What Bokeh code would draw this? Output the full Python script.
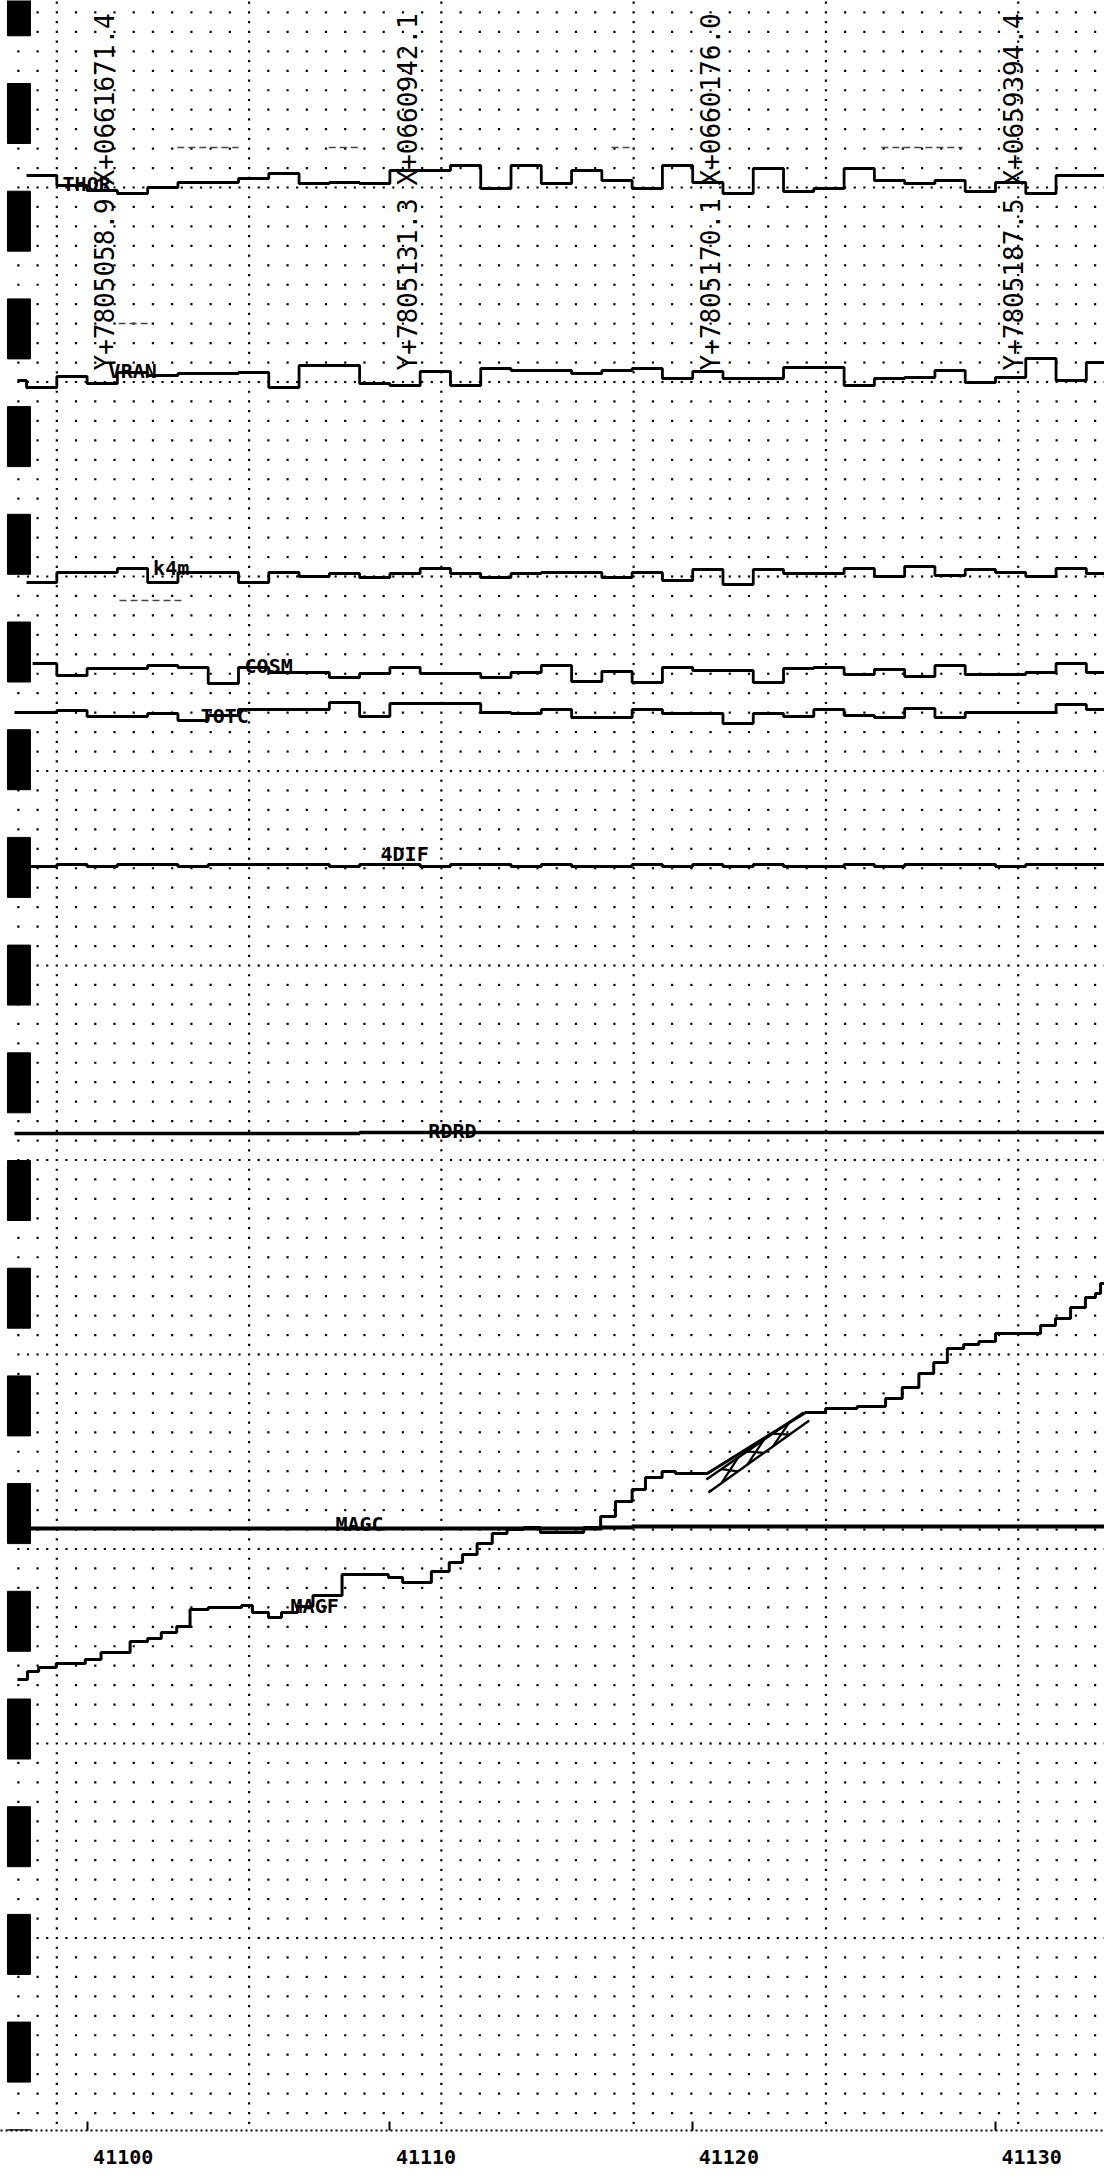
import numpy as np
from bokeh.plotting import figure
from bokeh.models import Range1d, FixedTicker
from bokeh.core.properties import value
from bokeh.embed import file_html
from bokeh.resources import INLINE

fid_ticks = [41100, 41110, 41120, 41130]
fid_labels = ["41100", "41110", "41120", "41130"]

# per-fiducial step traces: value for interval [n, n+1]
thor_n0, thor_x0 = 41098, 41098.0
thor = [175, 185, 190, 193, 187, 182, 182, 178, 173, 183, 182, 183,
        170, 170, 165, 188, 165, 183, 170, 180, 188, 165,
        182, 193, 168, 191, 188, 168, 180, 183, 180, 191,
        182, 193, 175, 175]

vran_n0, vran_x0 = 41097, 41097.7
vran = [380, 387, 376, 383, 372, 375, 373, 373, 372, 387, 365, 365, 383,
        385, 371, 385, 368, 370, 370, 373, 370, 368, 378,
        371, 378, 378, 367, 367, 385, 378, 377, 370, 382,
        377, 358, 380, 362]

k4m_n0, k4m_x0 = 41098, 41098.0
k4m = [582, 572, 572, 568, 582, 572, 572, 582, 572, 576, 573, 577,
       573, 568, 573, 577, 573, 572, 572, 577, 572, 580,
       569, 584, 569, 573, 573, 568, 576, 566, 575, 569,
       572, 576, 568, 573]

cosm_n0, cosm_x0 = 41098, 41098.2
cosm = [663, 675, 668, 668, 665, 667, 683, 667, 672, 672, 677, 673,
        667, 673, 673, 677, 672, 665, 681, 671, 682, 667,
        670, 670, 682, 668, 667, 674, 669, 676, 665, 674,
        674, 672, 663, 672]

totc_n0, totc_x0 = 41097, 41097.6
totc = [712, 712, 710, 716, 716, 713, 720, 715, 709, 709, 709, 702, 716,
        703, 703, 703, 712, 713, 709, 717, 717, 709, 713,
        713, 723, 713, 716, 709, 715, 717, 708, 717, 712,
        712, 712, 704, 709]

dif4_n0, dif4_x0 = 41097, 41097.6
dif4 = [866, 866, 864, 866, 864, 864, 866, 864, 864, 864, 864, 866, 864,
        864, 866, 864, 864, 866, 864, 866, 866, 864, 866,
        864, 866, 864, 866, 866, 864, 866, 864, 864, 864,
        866, 864, 864, 864]

rdrd_n0, rdrd_x0 = 41097, 41097.6
rdrd = [1133, 1133, 1133, 1133, 1133, 1133, 1133, 1133, 1133, 1133, 1133, 1133, 1132,
        1132, 1132, 1132, 1132, 1132, 1132, 1132, 1132, 1132, 1132,
        1132, 1132, 1132, 1132, 1132, 1132, 1132, 1132, 1132, 1132,
        1132, 1132, 1132, 1132]

magc_n0, magc_x0 = 41098, 41098.1
magc = [1528, 1528, 1528, 1528, 1528, 1528, 1528, 1528, 1528, 1528, 1528, 1528,
        1528, 1528, 1528, 1528, 1528, 1528, 1528, 1527, 1526, 1526,
        1526, 1526, 1526, 1526, 1526, 1526, 1526, 1526, 1526, 1526,
        1526, 1526, 1526, 1526]

# MAGF: finer steps (start fiducial of each step, level)
magf_a_x = [41097.70, 41098.03, 41098.40, 41098.98, 41099.94, 41100.46, 41101.42, 41102.00,
            41102.45, 41102.96, 41103.40, 41104.00, 41105.10, 41105.46, 41105.99, 41106.42,
            41106.95, 41107.46, 41108.42, 41109.95, 41110.42, 41111.37, 41111.96, 41112.40,
            41112.88, 41113.38, 41113.87, 41114.42, 41114.97, 41116.40, 41116.96, 41117.45,
            41118.00, 41118.44, 41118.99, 41119.43]
magf_a_y = [1679, 1671, 1667, 1663, 1659, 1652, 1641, 1638, 1632, 1626, 1609, 1607,
            1605, 1612, 1617, 1612, 1606, 1595, 1574, 1577, 1582, 1571, 1562, 1554,
            1543, 1533, 1529, 1527, 1532, 1527, 1516, 1501, 1489, 1477, 1471, 1473]
magf_a_end = 41120.48
magf_b_x = [41123.73, 41124.39, 41125.43, 41126.37, 41126.92, 41127.47, 41127.96, 41128.41,
            41128.95, 41129.45, 41130.00, 41131.49, 41131.98, 41132.48, 41132.97, 41133.30,
            41133.47]
magf_b_y = [1412, 1408, 1406, 1398, 1387, 1373, 1362, 1348, 1344, 1341, 1333, 1325,
            1318, 1307, 1297, 1293, 1283]
magf_b_end = 41133.60

# hatched band along the MAGF ramp
hatch_up_x = [41120.45, 41123.66]
hatch_up_y = [1479, 1412]
hatch_lo_x = [41120.52, 41123.85]
hatch_lo_y = [1492, 1420]

# faint dashed level marks on the film
lvl_x0 = [41102.98, 41107.98, 41117.32, 41126.23, 41101.04, 41101.07]
lvl_x1 = [41105.00, 41109.03, 41118.08, 41128.91, 41102.16, 41103.15]
lvl_y = [147, 147, 147, 147, 323, 600]

trace_names = ["THOR", "VRAN", "k4m", "COSM", "TOTC", "4DIF", "RDRD", "MAGC", "MAGF"]

coord_fid = [41100, 41110, 41120, 41130]
x_coords = ["X+0661671.4", "X+0660942.1", "X+0660176.0", "X+0659394.4"]
y_coords = ["Y+7805058.9", "Y+7805131.3", "Y+7805170.1", "Y+7805187.5"]

# ---------------- layout ----------------
W, H = 1104, 2176
X0, X1 = 41097.140, 41133.600
Y_BOTTOM, Y_TOP = 2130, 0

p = figure(width=W, height=H, output_backend="svg", toolbar_location=None,
           x_range=Range1d(X0, X1), y_range=Range1d(Y_BOTTOM, Y_TOP),
           y_axis_location=None, min_border_left=0, min_border_right=0,
           min_border_top=0, min_border_bottom=H - (Y_BOTTOM - Y_TOP))
p.outline_line_color = None
p.grid.visible = False
p.background_fill_color = "white"
p.border_fill_color = "white"

NB = "\u00a0" * 6
ax = p.xaxis[0]
ax.ticker = FixedTicker(ticks=fid_ticks)
ax.major_label_overrides = {t: NB + s for t, s in zip(fid_ticks, fid_labels)}
ax.axis_line_color = "black"
ax.axis_line_width = 2
ax.axis_line_dash = "2 3"
ax.major_tick_in = 9
ax.major_tick_out = 0
ax.major_tick_line_width = 2
ax.minor_tick_line_color = None
ax.major_label_standoff = 14
ax.major_label_text_font = "DejaVu Sans Mono"
ax.major_label_text_font_style = "bold"
ax.major_label_text_font_size = "20px"
ax.major_label_text_color = "black"

# ---------------- film sprocket marks (left edge) ----------------
mark_top = -24.7 + 107.7 * np.arange(0, 21)
p.quad(left=X0 + 0.23, right=X0 + 0.99, top=mark_top, bottom=mark_top + 60,
       fill_color="black", line_color="black")

# ---------------- dot grid ----------------
col_step, row_step = 0.635, 19.45
cols = 41099.0 + col_step * np.arange(-2, 55)
rows = 2132 - row_step * np.arange(1, 110)
gx, gy = np.meshgrid(cols, rows)
p.scatter(gx.ravel(), gy.ravel(), marker="square", size=2.2,
          fill_color="black", line_color=None)
mcols = 41099.0 + 10 * col_step * np.arange(0, 6)
hrows = 2132 - row_step * (np.arange(0, 110) + 0.5)
mx, my = np.meshgrid(mcols, hrows)
p.scatter(mx.ravel(), my.ravel(), marker="square", size=2.2,
          fill_color="black", line_color=None)
mrows = 2132 - 10 * row_step * np.arange(1, 11)
hcols = cols + col_step / 2
rx, ry = np.meshgrid(hcols, mrows)
p.scatter(rx.ravel(), ry.ravel(), marker="square", size=2.2,
          fill_color="black", line_color=None)

p.segment(x0=lvl_x0, y0=lvl_y, x1=lvl_x1, y1=lvl_y, line_color="#444444",
          line_width=1.5, line_dash="7 4")


# ---------------- traces ----------------
def fid_steps(n0, x0, vals, x_end):
    edges = [x0] + [n0 + i for i in range(1, len(vals))] + [x_end]
    xs, ys = [], []
    for i, v in enumerate(vals):
        xs += [edges[i], edges[i + 1]]
        ys += [v, v]
    return xs, ys


def free_steps(xv, yv, x_end):
    edges = list(xv) + [x_end]
    xs, ys = [], []
    for i, v in enumerate(yv):
        xs += [edges[i], edges[i + 1]]
        ys += [v, v]
    return xs, ys


for (n0, x0, vals, lw) in [(thor_n0, thor_x0, thor, 2.8), (vran_n0, vran_x0, vran, 2.8),
                           (k4m_n0, k4m_x0, k4m, 2.8), (cosm_n0, cosm_x0, cosm, 2.8),
                           (totc_n0, totc_x0, totc, 2.8), (dif4_n0, dif4_x0, dif4, 3.0),
                           (rdrd_n0, rdrd_x0, rdrd, 3.4), (magc_n0, magc_x0, magc, 4.0)]:
    xs, ys = fid_steps(n0, x0, vals, X1)
    p.line(xs, ys, line_color="black", line_width=lw)

ax_, ay_ = free_steps(magf_a_x, magf_a_y, magf_a_end)
bx_, by_ = free_steps(magf_b_x, magf_b_y, magf_b_end)
p.line(ax_ + bx_, ay_ + by_, line_color="black", line_width=3.0)

# hatched band
p.line(hatch_up_x, hatch_up_y, line_color="black", line_width=2.4)
p.line(hatch_lo_x, hatch_lo_y, line_color="black", line_width=2.4)
ca = np.array([41120.95, 41121.80, 41122.65])
cb = ca + 0.55
up = lambda x: np.interp(x, hatch_up_x, hatch_up_y)
lo = lambda x: np.interp(x, hatch_lo_x, hatch_lo_y)
p.segment(x0=ca, y0=up(ca), x1=cb, y1=lo(cb), line_color="black", line_width=2.2)
p.segment(x0=ca, y0=lo(ca), x1=cb, y1=up(cb), line_color="black", line_width=2.2)

# ---------------- trace names ----------------
name_x = [41099.19, 41100.71, 41102.18, 41105.20, 41103.75, 41109.69, 41111.27, 41108.20, 41106.72]
name_y = [183, 370, 567, 665, 715, 853, 1130, 1523, 1605]
p.text(x=name_x, y=name_y, text=trace_names, text_font=value("DejaVu Sans Mono"),
       text_font_style="bold", text_font_size="20px", text_color="black",
       text_align="left", text_baseline="alphabetic")

# ---------------- rotated coordinate annotations ----------------
cx = [f + 0.6 for f in coord_fid]
p.text(x=cx, y=[185] * 4, text=x_coords, angle=np.pi / 2,
       text_font=value("DejaVu Sans Mono"), text_font_size="26px", text_color="black",
       text_align="left", text_baseline="middle")
p.text(x=cx, y=[370] * 4, text=y_coords, angle=np.pi / 2,
       text_font=value("DejaVu Sans Mono"), text_font_size="26px", text_color="black",
       text_align="left", text_baseline="middle")

open("out.html", "w").write(file_html(p, INLINE))
